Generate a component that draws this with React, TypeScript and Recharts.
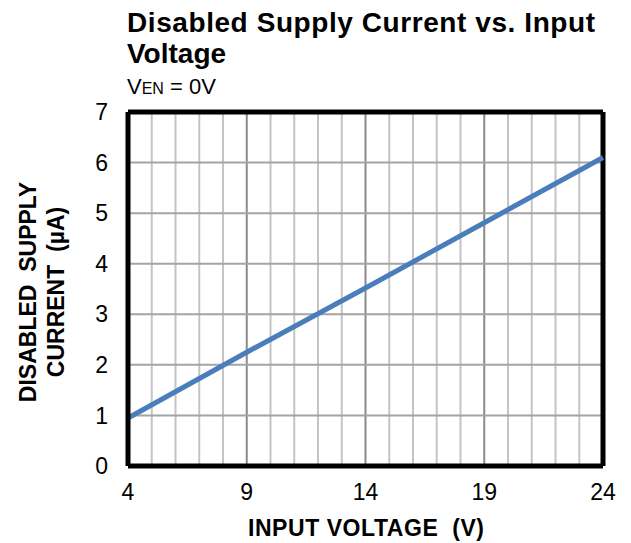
import { LineChart, Line, XAxis, YAxis, ReferenceLine } from "recharts";

// input voltage (V) vs disabled supply current (µA)
const VIN = [4, 9, 14, 19, 24];
const IQ = [0.95, 2.25, 3.52, 4.81, 6.1];

const X_TICKS = [4, 9, 14, 19, 24];
const Y_TICKS = [0, 1, 2, 3, 4, 5, 6, 7];
const X_MINOR = [5, 6, 7, 8, 10, 11, 12, 13, 15, 16, 17, 18, 20, 21, 22, 23];
const X_MAJOR = [9, 14, 19];
const Y_GRID = [1, 2, 3, 4, 5, 6];

const data = VIN.map((v, i) => ({ vin: v, iq: IQ[i] }));

const FONT = "Arial, 'Liberation Sans', sans-serif";
const SP2 = "\u00a0\u00a0";

export default function App() {
  return (
    <div style={{ position: "absolute", left: 0, top: 0, width: 631, height: 543, background: "#fff" }}>
      <LineChart width={631} height={543} data={data} margin={{ top: 112, right: 28, bottom: 47, left: 88 }}>
        {X_MINOR.map((x) => (
          <ReferenceLine key={"m" + x} x={x} stroke="#c4c4c4" strokeWidth={2} />
        ))}
        {X_MAJOR.map((x) => (
          <ReferenceLine key={"M" + x} x={x} stroke="#8a8a8a" strokeWidth={2} />
        ))}
        {Y_GRID.map((y) => (
          <ReferenceLine key={"h" + y} y={y} stroke="#a4a4a4" strokeWidth={2} />
        ))}
        <ReferenceLine x={24} stroke="#000" strokeWidth={5} />
        <ReferenceLine y={7} stroke="#000" strokeWidth={5} />
        <XAxis
          dataKey="vin"
          type="number"
          domain={[4, 24]}
          ticks={X_TICKS}
          tickLine={false}
          axisLine={{ stroke: "#000", strokeWidth: 5 }}
          tick={{ fill: "#000", fontSize: 23, fontFamily: FONT, dy: 10 }}
        />
        <YAxis
          type="number"
          domain={[0, 7]}
          ticks={Y_TICKS}
          width={40}
          tickLine={false}
          axisLine={{ stroke: "#000", strokeWidth: 5 }}
          tick={{ fill: "#000", fontSize: 23, fontFamily: FONT, dx: -12 }}
        />
        <Line
          dataKey="iq"
          stroke="#4a7ebb"
          strokeWidth={5}
          dot={false}
          isAnimationActive={false}
        />
      </LineChart>

      <svg style={{ position: "absolute", left: 0, top: 0, pointerEvents: "none" }} width={631} height={543} fontFamily={FONT} fill="#000">
        <text x={127} y={32} fontSize={28} fontWeight="bold" textLength={468} lengthAdjust="spacing">
          Disabled Supply Current vs. Input
        </text>
        <text x={127} y={63} fontSize={28} fontWeight="bold">
          Voltage
        </text>
        <text x={127} y={94} fontSize={22}>
          V<tspan fontSize={16}>EN</tspan> = 0V
        </text>
        <text transform="translate(36,292) rotate(-90)" textAnchor="middle" fontSize={23} fontWeight="bold">
          {"DISABLED" + SP2 + "SUPPLY"}
        </text>
        <text transform="translate(64,292) rotate(-90)" textAnchor="middle" fontSize={23} fontWeight="bold">
          {"CURRENT" + SP2 + "(µA)"}
        </text>
        <text x={366} y={536} textAnchor="middle" fontSize={23} fontWeight="bold" textLength={236} lengthAdjust="spacing">
          {"INPUT VOLTAGE" + SP2 + "(V)"}
        </text>
      </svg>
    </div>
  );
}
